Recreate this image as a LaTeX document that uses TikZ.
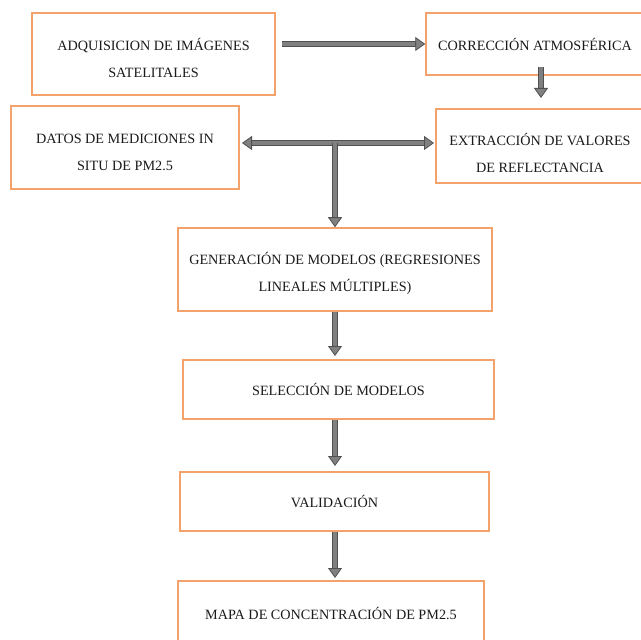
\documentclass[tikz,border=0pt]{standalone}
\usepackage{fontspec}
\setmainfont{Liberation Serif}
\usetikzlibrary{arrows.meta,positioning}
\definecolor{edge}{HTML}{F3A26C}
\definecolor{shaft}{HTML}{808080}
\definecolor{rim}{HTML}{505050}
\definecolor{ink}{HTML}{1A1A1A}
\newcommand{\lift}[1]{\rule{0pt}{#1}}
\tikzset{stage/.style={draw=edge,line width=0.75pt,align=center,inner sep=0pt,font=\fontsize{7.1}{13.5}\selectfont,text=ink},
  arr/.style={-{Triangle[length=5pt,width=7pt,fill=shaft,color=rim,line width=0.4pt]},line width=2.3pt,draw=shaft,
    preaction={draw=rim,line width=3.1pt,-,shorten >=4.5pt}},
  dblarr/.style={{Triangle[length=5pt,width=7pt,fill=shaft,color=rim,line width=0.4pt]}-{Triangle[length=5pt,width=7pt,fill=shaft,color=rim,line width=0.4pt]},line width=2.3pt,draw=shaft,
    preaction={draw=rim,line width=3.1pt,-,shorten >=4.5pt,shorten <=4.5pt}}}

\begin{document}
\begin{tikzpicture}[x=0.5pt,y=-0.5pt]
\useasboundingbox (0,0) rectangle (640,640);
% stages
\node[stage,minimum width=121.5pt,minimum height=41pt] (adq) at (153.5,54) {\lift{10.3pt}ADQUISICION DE IMÁGENES\\SATELITALES};
\node[stage,minimum width=109pt,minimum height=31pt] (corr) at (535,44) {CORRECCIÓN ATMOSFÉRICA};
\node[stage,minimum width=114pt,minimum height=41.5pt] (datos) at (125,147.5) {\lift{9.7pt}DATOS DE MEDICIONES IN\\SITU DE PM2.5};
\node[stage,minimum width=104pt,minimum height=37pt] (extr) at (540,146) {\lift{13pt}EXTRACCIÓN DE VALORES\\DE REFLECTANCIA};
\node[stage,minimum width=157pt,minimum height=41.5pt] (gen) at (335,269.5) {\lift{10.3pt}GENERACIÓN DE MODELOS (REGRESIONES\\LINEALES MÚLTIPLES)};
\node[stage,minimum width=155.5pt,minimum height=29.5pt] (sel) at (338.5,389.5) {SELECCIÓN DE MODELOS};
\node[stage,minimum width=154.5pt,minimum height=29.5pt] (val) at (334.5,501.5) {VALIDACIÓN};
\node[stage,minimum width=153pt,minimum height=32pt] (mapa) at (331,613) {MAPA DE CONCENTRACIÓN DE PM2.5};
% free ends
\coordinate (adqout) at (282,44);
\coordinate (corrout) at (541,67);
\coordinate (extrin) at (541,98);
\coordinate (datin) at (242,143);
\coordinate (extrout) at (434,143);
\coordinate (junc) at (335,143);
\coordinate (selin) at (335,356);
\coordinate (valin) at (335,466);
\coordinate (mapin) at (335,578);
% connectors
\draw[arr] (adqout) -- (corr.west);
\draw[arr] (corrout) -- (extrin);
\draw[dblarr] (datin) -- (extrout);
\draw[arr] (junc) -- (gen.north);
\draw[arr] (gen.south) -- (selin);
\draw[arr] (sel.south -| selin) -- (valin);
\draw[arr] (val.south -| valin) -- (mapin);
\end{tikzpicture}
\end{document}
